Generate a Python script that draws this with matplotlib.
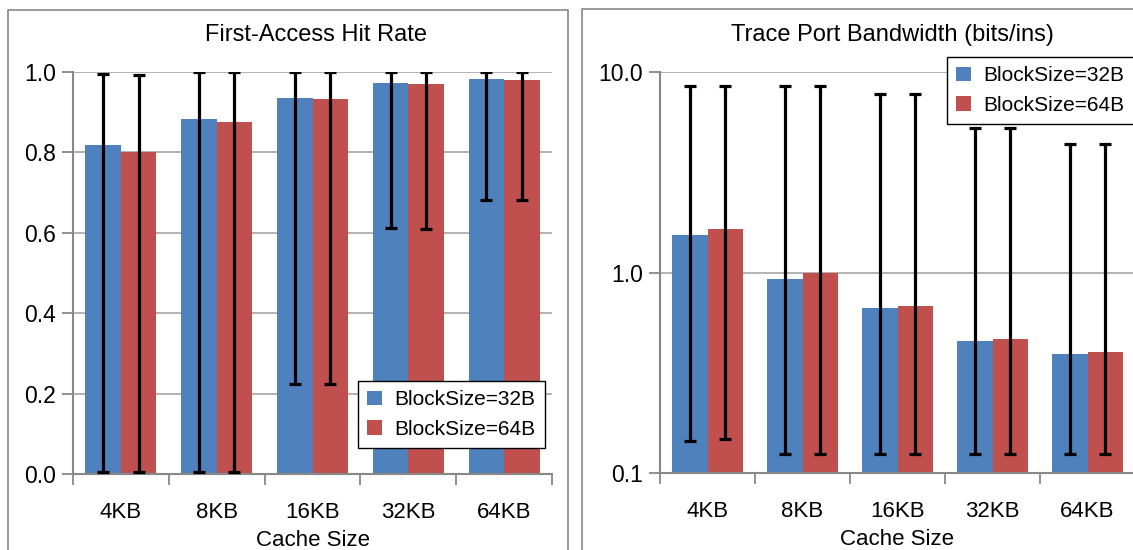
"""
Cache hit rate and trace port bandwidth, two Excel-style panels.
"""
import matplotlib
matplotlib.use("Agg")
import matplotlib.pyplot as plt
from matplotlib.patches import Rectangle
import numpy as np

plt.rcParams['font.family'] = ['Liberation Sans', 'DejaVu Sans']

cache_sizes = ["4KB", "8KB", "16KB", "32KB", "64KB"]
series_names = ["BlockSize=32B", "BlockSize=64B"]

# First-access hit rate: bar value, error bar low, error bar high
hit_32 = [0.818, 0.883, 0.935, 0.972, 0.983]
hit_64 = [0.801, 0.875, 0.933, 0.970, 0.980]
hit_lo_32 = [0.004, 0.004, 0.225, 0.612, 0.682]
hit_lo_64 = [0.004, 0.004, 0.225, 0.610, 0.682]
hit_hi_32 = [0.995, 1.0, 1.0, 1.0, 1.0]
hit_hi_64 = [0.992, 1.0, 1.0, 1.0, 1.0]

# Trace port bandwidth (bits/ins)
bw_32 = [1.53, 0.933, 0.662, 0.455, 0.394]
bw_64 = [1.65, 1.0, 0.679, 0.466, 0.403]
bw_lo_32 = [0.145, 0.125, 0.125, 0.125, 0.125]
bw_lo_64 = [0.148, 0.125, 0.125, 0.125, 0.125]
bw_hi_32 = [8.5, 8.5, 7.76, 5.27, 4.39]
bw_hi_64 = [8.5, 8.5, 7.76, 5.27, 4.39]

BLUE = "#4F81BD"
RED = "#C0504D"
GRID = "#a6a6a6"
AXIS = "#888888"

W, H = 1133, 550
fig = plt.figure(figsize=(W / 100, H / 100), dpi=100)


def px_axes(x0, x1, ytop, ybot):
    return fig.add_axes([x0 / W, 1 - ybot / H, (x1 - x0) / W, (ybot - ytop) / H])


def draw_panel(ax, vals, los, his):
    x = np.arange(len(cache_sizes))
    width = 0.37
    colors = [BLUE, RED]
    for k, (v, lo, hi) in enumerate(zip(vals, los, his)):
        v = np.array(v)
        yerr = [v - np.array(lo), np.array(hi) - v]
        pos = x + (k - 0.5) * width
        ax.bar(pos, v, width, color=colors[k], zorder=2, label=series_names[k])
        ax.errorbar(pos, v, yerr=yerr, fmt="none", ecolor="black",
                    elinewidth=2.3, capsize=4.5, capthick=2.3, zorder=3)
    ax.set_xlim(-0.5, len(cache_sizes) - 0.5)
    ax.set_xticks(x)
    ax.set_xticklabels(cache_sizes, fontsize=16)
    ax.set_xticks(np.arange(-0.5, len(cache_sizes)), minor=True)
    ax.tick_params(axis="x", which="major", length=0, pad=20)
    ax.tick_params(axis="x", which="minor", length=8, width=1.3,
                   color=AXIS, direction="out")
    ax.tick_params(axis="y", which="major", length=8, width=1.3,
                   color=AXIS, labelsize=16.5, pad=4)
    ax.tick_params(axis="y", which="minor", length=0)
    ax.yaxis.grid(True, color=GRID, linewidth=1.2, zorder=0)
    ax.set_axisbelow(True)
    for s in ["top", "right"]:
        ax.spines[s].set_visible(False)
    for s in ["left", "bottom"]:
        ax.spines[s].set_color(AXIS)
        ax.spines[s].set_linewidth(1.5)
    ax.set_xlabel("Cache Size", fontsize=16, labelpad=5)


def add_legend(ax, x, y):
    ax.legend(loc="upper left", bbox_to_anchor=(x / W, 1 - y / H),
              bbox_transform=fig.transFigure, borderaxespad=0, fontsize=15,
              frameon=True, fancybox=False, framealpha=1, edgecolor="black",
              handlelength=0.7, handleheight=0.7, handletextpad=0.6,
              labelspacing=0.5, borderpad=0.45)


# panel frames
fig.patches.append(Rectangle((8 / W, -0.1), 560 / W, 1.1 - 9.5 / H,
                             transform=fig.transFigure, fill=False,
                             edgecolor=AXIS, linewidth=1.2))
fig.patches.append(Rectangle((582 / W, -0.1), 600 / W, 1.1 - 9 / H,
                             transform=fig.transFigure, fill=False,
                             edgecolor=AXIS, linewidth=1.2))

# left panel
ax1 = px_axes(73, 552, 72, 474)
draw_panel(ax1, [hit_32, hit_64], [hit_lo_32, hit_lo_64], [hit_hi_32, hit_hi_64])
ax1.set_ylim(0, 1.0)
ax1.set_yticks(np.arange(0, 1.01, 0.2))
ax1.set_yticklabels(["%.1f" % t for t in np.arange(0, 1.01, 0.2)])
fig.text(316 / W, 1 - 35 / H, "First-Access Hit Rate", ha="center",
         va="center", fontsize=17)
add_legend(ax1, 358, 381)

# right panel
ax2 = px_axes(660, 1135, 72, 473)
ax2.set_yscale("log")
draw_panel(ax2, [bw_32, bw_64], [bw_lo_32, bw_lo_64], [bw_hi_32, bw_hi_64])
ax2.set_ylim(0.1, 10)
ax2.set_yticks([0.1, 1, 10])
ax2.set_yticklabels(["0.1", "1.0", "10.0"])
fig.text(892 / W, 1 - 35 / H, "Trace Port Bandwidth (bits/ins)", ha="center",
         va="center", fontsize=17)
add_legend(ax2, 947, 57)

fig.savefig("out.png", dpi=100)
